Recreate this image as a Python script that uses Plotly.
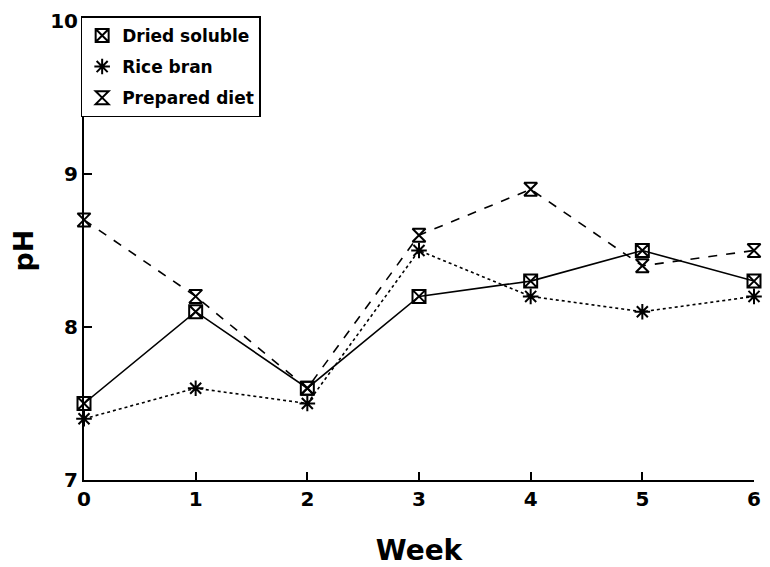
import plotly.graph_objects as go

weeks = [0, 1, 2, 3, 4, 5, 6]
dried_soluble = [7.5, 8.1, 7.6, 8.2, 8.3, 8.5, 8.3]
rice_bran = [7.4, 7.6, 7.5, 8.5, 8.2, 8.1, 8.2]
prepared_diet = [8.7, 8.2, 7.6, 8.6, 8.9, 8.4, 8.5]

series = [
    ("Dried soluble", dried_soluble, "solid", "square-x-open"),
    ("Rice bran", rice_bran, "dot", "asterisk-open"),
    ("Prepared diet", prepared_diet, "dash", "hourglass-open"),
]

FONT = "DejaVu Sans"

fig = go.Figure()
for name, vals, dash, sym in series:
    fig.add_trace(go.Scatter(
        x=weeks, y=vals, mode="lines+markers", showlegend=False, cliponaxis=False,
        line=dict(color="black", width=1.6, dash=dash),
        marker=dict(symbol=sym, size=13, color="black", line=dict(width=2, color="black")),
    ))
for i, (name, vals, dash, sym) in enumerate(series):
    fig.add_trace(go.Scatter(
        x=[None], y=[None], mode="markers", name=name, legendgroup=f"g{i}",
        marker=dict(symbol=sym, size=13, color="black", line=dict(width=2, color="black")),
    ))

fig.update_layout(
    width=754, height=559,
    margin=dict(l=76, r=8, t=9, b=87),
    plot_bgcolor="white", paper_bgcolor="white",
    font=dict(family=FONT, color="black"),
    legend=dict(x=-0.005, y=1.01, xanchor="left", yanchor="top",
                bordercolor="black", borderwidth=1.5, bgcolor="white",
                font=dict(size=17, family=FONT, color="black", weight="bold"),
                tracegroupgap=6, itemwidth=30),
    xaxis=dict(range=[0, 6], tickvals=weeks, ticks="inside", ticklen=8,
               tickwidth=1.5, tickcolor="black", automargin=False,
               showline=True, linewidth=2, linecolor="black", showgrid=False, zeroline=False,
               tickfont=dict(size=20, family=FONT, weight="bold"),
               title=dict(text="<b>Week</b>", font=dict(size=28, family=FONT), standoff=30)),
    yaxis=dict(range=[7, 10], tickvals=[7, 8, 9, 10], ticks="inside", ticklen=8,
               tickwidth=1.5, tickcolor="black", automargin=False,
               showline=True, linewidth=2, linecolor="black", showgrid=False, zeroline=False,
               tickfont=dict(size=20, family=FONT, weight="bold"),
               title=dict(text="<b>pH</b>", font=dict(size=27, family=FONT), standoff=12)),
)
fig.write_html("out.html")
